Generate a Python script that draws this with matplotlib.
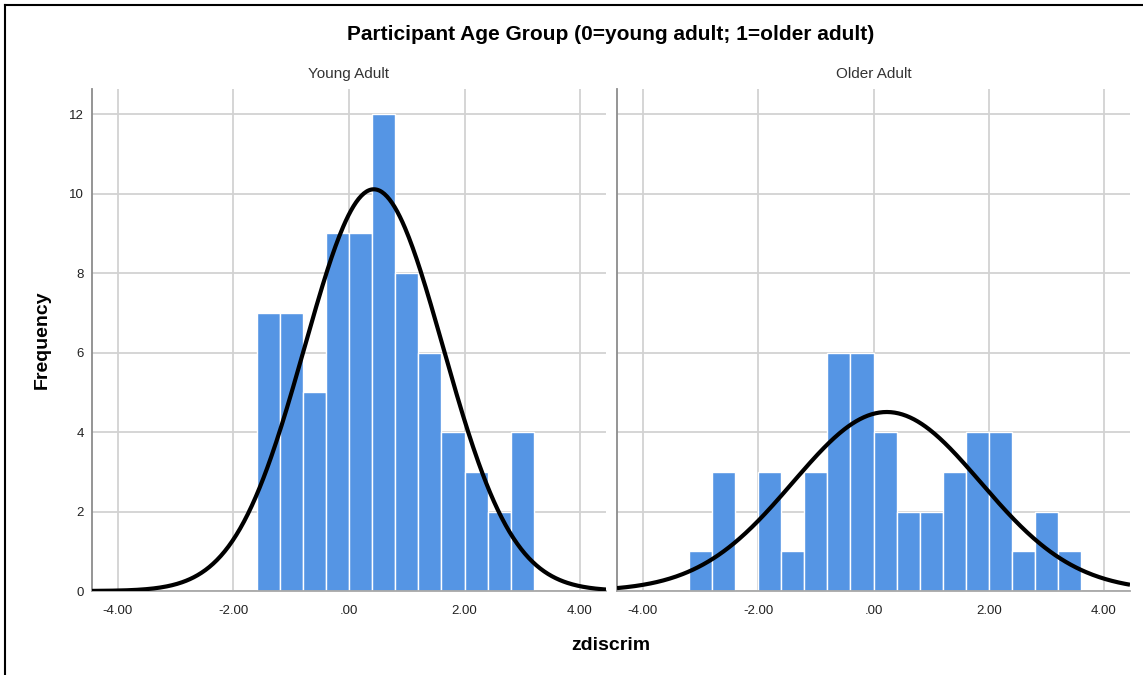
import numpy as np
import matplotlib
matplotlib.use('Agg')
import matplotlib.pyplot as plt
from matplotlib.lines import Line2D

plt.rcParams['font.family'] = ['Liberation Sans', 'DejaVu Sans']

# histogram bins (width 0.4) and counts
BIN_W = 0.4
young_start = -1.6
young_counts = [7, 7, 5, 9, 9, 12, 8, 6, 4, 3, 2, 4]
older_start = -3.2
older_counts = [1, 3, 0, 3, 1, 3, 6, 6, 4, 2, 2, 3, 4, 4, 1, 2, 1]

# fitted normal curve params (SPSS overlay)
young_mean, young_sd = 0.43, 1.20
older_mean, older_sd = 0.23, 1.63

panel_titles = ['Young Adult', 'Older Adult']
x_ticks = [-4, -2, 0, 2, 4]
x_ticklabels = ['-4.00', '-2.00', '.00', '2.00', '4.00']
y_ticks = [0, 2, 4, 6, 8, 10, 12]

BAR = '#5595E4'
GRID = '#d2d2d2'

fig = plt.figure(figsize=(11.43, 6.75), dpi=100)
W, H = 1143, 675
bottom, top = 591, 89
panels = [(92, 606), (617, 1130)]

data = [(young_start, young_counts, young_mean, young_sd),
        (older_start, older_counts, older_mean, older_sd)]

for i, ((x0, x1), (start, counts, mu, sd)) in enumerate(zip(panels, data)):
    ax = fig.add_axes([x0 / W, 1 - bottom / H, (x1 - x0) / W, (bottom - top) / H])
    edges = start + BIN_W * np.arange(len(counts))
    ax.bar(edges, counts, width=BIN_W, align='edge', color=BAR,
           edgecolor='white', linewidth=1.0, zorder=2)
    n = sum(counts)
    xs = np.linspace(-4.45, 4.45, 400)
    ys = n * BIN_W / (sd * np.sqrt(2 * np.pi)) * np.exp(-0.5 * ((xs - mu) / sd) ** 2)
    ax.plot(xs, ys, color='black', linewidth=3.0, zorder=3, solid_capstyle='butt')

    ax.set_xlim(-4.45, 4.45)
    ax.set_ylim(0, 12.63)
    ax.set_xticks(x_ticks)
    ax.set_xticklabels(x_ticklabels)
    ax.set_yticks(y_ticks)
    ax.grid(True, color=GRID, linewidth=1.3, zorder=0)
    ax.set_axisbelow(True)
    ax.tick_params(length=0, labelsize=9.5, colors='#222222')
    ax.tick_params(axis='x', pad=10)
    ax.tick_params(axis='y', pad=6)
    for s in ['top', 'right']:
        ax.spines[s].set_visible(False)
    ax.spines['bottom'].set_color('#a8a8a8')
    ax.spines['bottom'].set_linewidth(1.3)
    ax.spines['left'].set_color('#8c8c8c')
    ax.spines['left'].set_linewidth(1.3)
    if i == 1:
        ax.set_yticklabels([])
    ax.set_title(panel_titles[i], fontsize=11, color='#333333', pad=8)

fig.text(611 / W, 1 - 34 / H, 'Participant Age Group (0=young adult; 1=older adult)',
         ha='center', va='center', fontsize=15, fontweight='bold')
fig.text(611 / W, 1 - 645 / H, 'zdiscrim', ha='center', va='center',
         fontsize=14, fontweight='bold')
fig.text(42 / W, 1 - 340 / H, 'Frequency', ha='center', va='center',
         rotation=90, fontsize=14, fontweight='bold')

# frame on left and top like the SPSS viewer
fig.add_artist(Line2D([5 / W, 5 / W], [0, 1 - 5 / H], color='black', linewidth=1.5))
fig.add_artist(Line2D([5 / W, 1], [1 - 5 / H, 1 - 5 / H], color='black', linewidth=1.5))

fig.savefig('out.png', dpi=100)
